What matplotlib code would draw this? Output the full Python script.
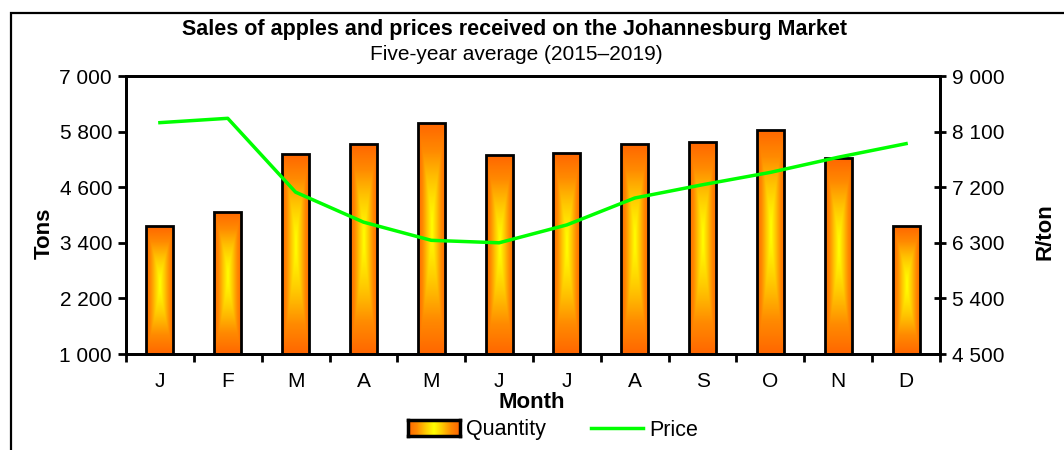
import matplotlib
matplotlib.use('Agg')
import matplotlib.pyplot as plt
import numpy as np
from matplotlib.colors import LinearSegmentedColormap
from matplotlib.patches import Rectangle
from matplotlib.lines import Line2D
from matplotlib.ticker import FuncFormatter, FixedLocator

plt.rcParams['font.family'] = ['Liberation Sans', 'DejaVu Sans']

months = ['J', 'F', 'M', 'A', 'M', 'J', 'J', 'A', 'S', 'O', 'N', 'D']
quantity = [3760, 4075, 5315, 5530, 5980, 5290, 5330, 5530, 5575, 5845, 5230, 3760]
price = [8245, 8315, 7120, 6635, 6340, 6300, 6590, 7025, 7240, 7440, 7685, 7905]

tons_ticks = [1000, 2200, 3400, 4600, 5800, 7000]
price_ticks = [4500, 5400, 6300, 7200, 8100, 9000]

grad_cmap = LinearSegmentedColormap.from_list('apple', ['#FFFF00', '#FFC800', '#FF8A00', '#FF6600'])


def space_thousands(v, pos):
    return f"{int(round(v)):,}".replace(',', ' ')


def grad_array(n=120, cy=0.55):
    # rectangular "from centre" gradient like the Excel fill
    xx = np.linspace(-1, 1, n)
    yy = np.linspace(0, 1, n * 2)
    dx = np.abs(xx)[None, :]
    dy = np.where(yy < cy, (cy - yy) / cy, (yy - cy) / (1 - cy))[:, None]
    return np.maximum(dx, dy ** 1.3)


fig = plt.figure(figsize=(10.64, 4.5), dpi=100)
ax = fig.add_axes([126 / 1064, 96 / 450, 814 / 1064, 278 / 450])
ax2 = ax.twinx()

x = np.arange(len(months))
width = 0.4
bars = ax.bar(x, quantity, width=width, facecolor='none', edgecolor='black', linewidth=2, zorder=3)
g = grad_array()
for b in bars:
    x0, y0 = b.get_x(), 1000
    im = ax.imshow(g, cmap=grad_cmap, vmin=0, vmax=1, aspect='auto', origin='lower',
                   extent=[x0, x0 + b.get_width(), y0, b.get_height()], zorder=2,
                   interpolation='bilinear')
    im.set_clip_path(b)

ax2.plot(x, price, color='#00FF00', linewidth=2.5, zorder=4)

ax.set_xlim(-0.5, 11.5)
ax.set_ylim(1000, 7000)
ax2.set_ylim(4500, 9000)
ax.set_yticks(tons_ticks)
ax2.set_yticks(price_ticks)
ax.yaxis.set_major_formatter(FuncFormatter(space_thousands))
ax2.yaxis.set_major_formatter(FuncFormatter(space_thousands))

# tick marks between the months, labels centred on them
ax.xaxis.set_major_locator(FixedLocator(np.arange(-0.5, 12, 1)))
ax.xaxis.set_major_formatter(FuncFormatter(lambda v, p: ''))
ax.xaxis.set_minor_locator(FixedLocator(x))
ax.set_xticklabels(months, minor=True)
ax.tick_params(axis='x', which='major', direction='out', length=6, width=2)
ax.tick_params(axis='x', which='minor', length=0, labelsize=15, pad=13)
ax.tick_params(axis='y', direction='out', length=6, width=2, labelsize=15, pad=4)
ax2.tick_params(axis='y', direction='inout', length=9, width=2, labelsize=15, pad=4)

for a in (ax, ax2):
    for s in a.spines.values():
        s.set_linewidth(2)

fig.text(0.042, (450 - 233) / 450, 'Tons', rotation=90, ha='center', va='center',
         fontsize=16, fontweight='bold')
fig.text(0.982, (450 - 232) / 450, 'R/ton', rotation=90, ha='center', va='center',
         fontsize=16, fontweight='bold')
fig.text(0.5, 1 - 402 / 450, 'Month', ha='center', va='center', fontsize=16, fontweight='bold')
fig.text(0.484, 1 - 30 / 450, 'Sales of apples and prices received on the Johannesburg Market',
         ha='center', va='center', fontsize=15.5, fontweight='bold')
fig.text(0.485, 1 - 55 / 450, 'Five-year average (2015\u20132019)', ha='center', va='center', fontsize=15)

handles = [Rectangle((0, 0), 1, 1, facecolor='#FFA500', edgecolor='black', linewidth=2),
           Line2D([], [], color='#00FF00', linewidth=2.5)]
leg = fig.legend(handles, ['Quantity', 'Price'], loc='center', bbox_to_anchor=(0.52, 1 - 430 / 450),
                 ncol=2, frameon=False, fontsize=15.5, handlelength=2.4, handleheight=0.7,
                 columnspacing=2.1, handletextpad=0.3)

# outer chart border
fig.patches.append(Rectangle((11 / 1064, -0.1), 1.2, 0.1 + (450 - 13) / 450, transform=fig.transFigure,
                             fill=False, edgecolor='black', linewidth=1.6))

# paint the gradient into the legend patch
fig.canvas.draw()
hp = leg.legend_handles[0]
bb = hp.get_window_extent().transformed(fig.transFigure.inverted())
lax = fig.add_axes([bb.x0, bb.y0, bb.width, bb.height], zorder=10)
lg = np.abs(np.linspace(-1, 1, 100))[None, :] * np.ones((10, 1))
lax.imshow(lg, cmap=grad_cmap, vmin=0, vmax=1, aspect='auto', interpolation='bilinear')
lax.set_xticks([])
lax.set_yticks([])
for s in lax.spines.values():
    s.set_linewidth(2.5)

fig.savefig('out.png', dpi=100)
plt.close(fig)
